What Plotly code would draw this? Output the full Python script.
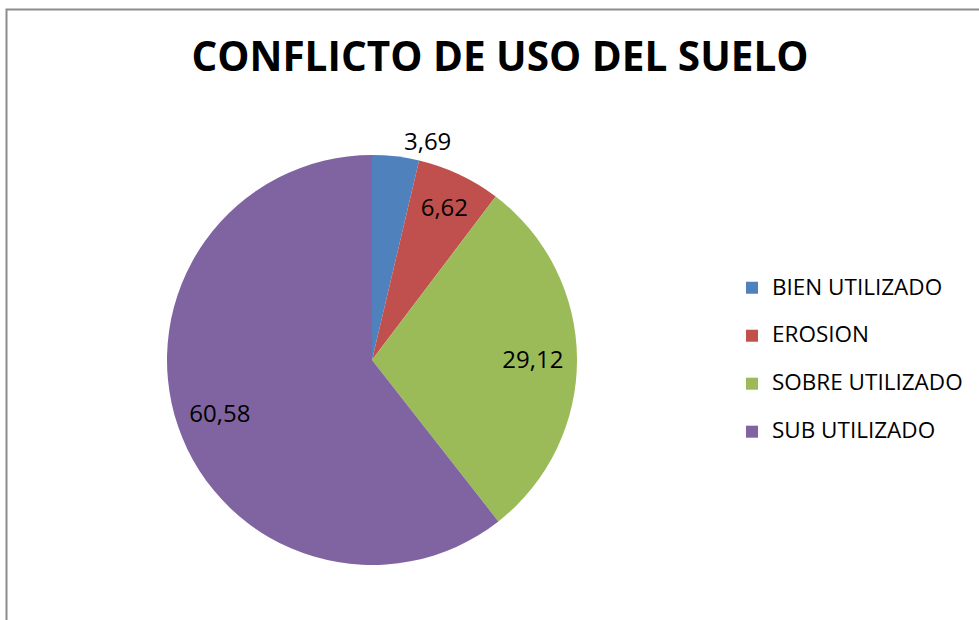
import plotly.graph_objects as go

categories = ["BIEN UTILIZADO", "EROSION", "SOBRE UTILIZADO", "SUB UTILIZADO"]
values = [3.69, 6.62, 29.12, 60.58]
value_labels = ["3,69", "6,62", "29,12", "60,58"]
colors = ["#4F81BD", "#C0504D", "#9BBB59", "#8064A2"]
title_text = "CONFLICTO DE USO DEL SUELO"

W, H = 979, 620
FONT = "Open Sans"

# legend labels: visible text at 22.5px, an empty second line gives the wide row spacing
legend_labels = [f"<span style='font-size:22.5px'>{c}</span><br> " for c in categories]

pie_domain = dict(x=[167 / W, 577 / W], y=[1 - 565 / H, 1 - 155 / H])

# the coloured pie
pie = go.Pie(
    labels=legend_labels,
    values=values,
    textinfo="none",
    marker=dict(colors=colors, line=dict(width=0)),
    sort=False,
    direction="clockwise",
    rotation=0,
    customdata=categories,
    text=value_labels,
    hovertemplate="%{customdata}: %{text}<extra></extra>",
    domain=pie_domain,
)

# transparent ring over the pie that carries the value labels, so plotly places
# them in the outer part of each slice
label_ring = go.Pie(
    labels=legend_labels,
    values=values,
    text=value_labels,
    textinfo="text",
    textposition=["outside", "inside", "inside", "inside"],
    insidetextorientation="horizontal",
    textfont=dict(family=FONT, size=24, color="black"),
    insidetextfont=dict(family=FONT, size=24, color="black"),
    outsidetextfont=dict(family=FONT, size=24, color="black"),
    marker=dict(colors=["rgba(0,0,0,0)"] * len(values), line=dict(width=0)),
    hole=0.57,
    sort=False,
    direction="clockwise",
    rotation=0,
    showlegend=False,
    hoverinfo="skip",
    domain=pie_domain,
)

fig = go.Figure([pie, label_ring])

fig.update_layout(
    width=W,
    height=H,
    margin=dict(l=0, r=0, t=0, b=0),
    paper_bgcolor="white",
    plot_bgcolor="white",
    font=dict(family=FONT, color="black"),
    title=dict(
        text=f"<b>{title_text}</b>",
        x=500 / W,
        xanchor="center",
        y=1 - 56.5 / H,
        yanchor="middle",
        font=dict(family=FONT, size=40.5, color="black"),
    ),
    showlegend=True,
    legend=dict(
        x=732 / W,
        xanchor="left",
        y=1 - 270 / H,
        yanchor="top",
        valign="top",
        font=dict(family=FONT, size=17.3, color="black"),
        bgcolor="rgba(0,0,0,0)",
    ),
    shapes=[
        dict(
            type="rect",
            xref="paper",
            yref="paper",
            x0=6.5 / W,
            x1=1.05,
            y0=-0.05,
            y1=1 - 9.5 / H,
            line=dict(color="#8C8C8C", width=2),
            fillcolor="rgba(0,0,0,0)",
            layer="above",
        )
    ],
)

fig.write_html(
    "out.html",
    config={"displayModeBar": False},
    post_script="document.body.style.margin='0px';document.body.style.overflow='hidden';",
)
